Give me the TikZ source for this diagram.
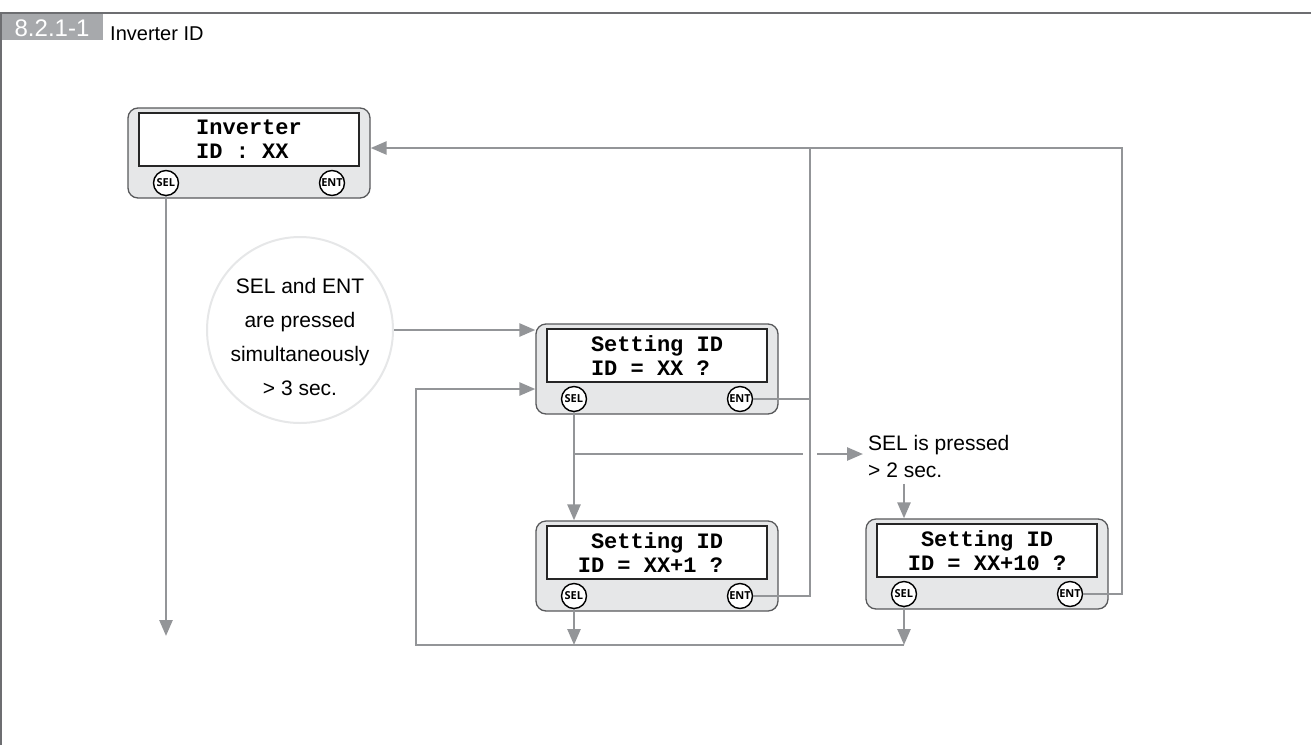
\documentclass[tikz,border=0pt]{standalone}
\usepackage{fontspec}
\setmainfont{Liberation Sans}
\newfontfamily\lcdfont{Liberation Mono}
\newfontfamily\btnfont{Open Sans}
\usetikzlibrary{arrows.meta,calc}
\definecolor{linegray}{HTML}{939598}
\definecolor{panelfill}{HTML}{E6E7E8}
\definecolor{paneldraw}{HTML}{58595B}
\definecolor{framegray}{HTML}{6D6E71}
\definecolor{labelgray}{HTML}{A7A9AC}
\definecolor{circgray}{HTML}{E6E7E8}
\tikzset{
  panelbox/.style={draw=paneldraw, fill=panelfill, line width=1.3pt, rounded corners=10pt,
    minimum width=242pt, minimum height=90pt, inner sep=0pt},
  screenbox/.style={draw=black!85, fill=white, line width=1.1pt, minimum width=220pt,
    minimum height=53pt, inner sep=0pt, text width=211.2pt, align=left,
    font=\lcdfont\bfseries\fontsize{22}{24}\selectfont},
  btn/.style={circle, draw=black, fill=white, line width=1.4pt, minimum size=25pt,
    inner sep=0pt, font=\btnfont\bfseries\fontsize{11}{11}\selectfont},
  conn/.style={draw=linegray, line width=2.6pt},
  arr/.style={conn, -{Triangle[length=16pt,width=13pt]}},
}
\newcommand\mkpanel[5]{%
  \node[panelbox] (#1) at (#2,#3) {};
  \node[screenbox] (#1-scr) at (#2,#3-13.5) {#4\\#5};
  \node[btn] (#1-sel) at (#2-83,#3+30) {\kern-0.3pt SEL};
  \node[btn] (#1-ent) at (#2+83,#3+30) {ENT};
}
% fixed-width character cells of the LCD
\newcommand\lcdsp[1]{\hspace*{#1em}}
\newcommand\ls{\hspace*{0.6em}}
\begin{document}
\begin{tikzpicture}[x=1pt,y=-1pt]
\useasboundingbox (0,0) rectangle (1311,745);
% frame and heading
\fill[labelgray] (0,13) rectangle (103,40);
\draw[framegray, line width=1.6pt] (1.2,745) -- (1.2,13) -- (1311,13);
\node[anchor=base, text=white, inner sep=0pt, font=\fontsize{24}{24}\selectfont] (lbl) at (52,36.5) {8.2.1-1};
\node[anchor=base west, inner sep=0pt, font=\fontsize{20}{20}\selectfont] (title) at (110,40) {Inverter ID};
% panels
\mkpanel{P1}{249}{153}{\lcdsp{2.4}Inverter}{\lcdsp{2.4}ID\ls:\ls XX}
\mkpanel{P2}{657}{369}{\lcdsp{1.8}Setting\ls ID}{\lcdsp{1.8}ID\ls=\ls XX\ls?}
\mkpanel{P3}{657}{566}{\lcdsp{1.8}Setting\ls ID}{\lcdsp{1.2}ID\ls=\ls XX+1\ls?}
\mkpanel{P4}{987}{564}{\lcdsp{1.8}Setting\ls ID}{\lcdsp{1.2}ID\ls=\ls XX+10\ls?}
% condition circle
\node[circle, draw=circgray, line width=2pt, fill=white, minimum size=186pt, inner sep=0pt] (cond) at (300,330) {};
\node[align=center, inner sep=0pt, font=\fontsize{21}{34}\selectfont] (condtxt) at (300,337)
  {SEL and ENT\\are pressed\\simultaneously\\> 3 sec.};
% note
\node[anchor=north west, align=left, inner sep=0pt, font=\fontsize{21}{27}\selectfont] (selnote)
  at (868,435) {SEL is pressed\\> 2 sec.};
% coordinates
\coordinate (vx) at (810,148);
\coordinate (tr) at (1122,148);
\coordinate (gapL) at (803,454);
\coordinate (gapR) at (817,454);
\coordinate (botL) at (416,645);
\coordinate (loopT) at (416,389);
\coordinate (selA) at (166,636);
% connectors
\draw[arr] (P1-sel.south) -- (selA);
\draw[arr] (cond.east) -- (cond.east -| P2.west);
\draw[arr] (P2-sel.south) -- (P2-sel.south |- P3.north);
\draw[conn] (P2-sel.south |- gapL) -- (gapL);
\draw[arr, shorten >=5pt] (gapR) -- (gapR -| selnote.west);
\draw[arr, shorten <=6pt] (P4-sel |- selnote.south) -- (P4-sel |- P4.north);
\draw[arr] (P3-sel.south) -- (P3-sel |- botL);
\draw[arr] (P4-sel.south) -- (P4-sel |- botL);
\draw[arr] (P4-sel |- botL) -- (botL) -- (loopT) -- (loopT -| P2.west);
\draw[conn] (P2-ent.east) -- (P2-ent.east -| vx);
\draw[conn] (P3-ent.east) -- (P3-ent.east -| vx) -- (vx);
\draw[arr] (P4-ent.east) -- (P4-ent.east -| tr) -- (tr) -- (tr -| P1.east);
\end{tikzpicture}
\end{document}
